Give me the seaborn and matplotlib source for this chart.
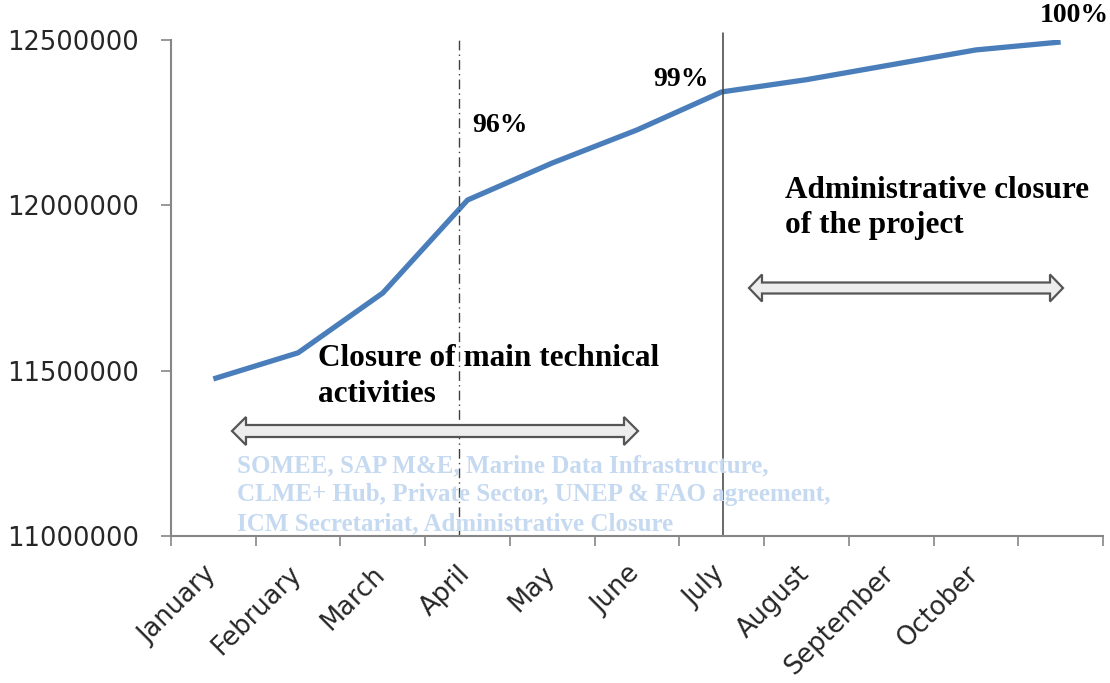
import numpy as np
import pandas as pd
import matplotlib
matplotlib.use("Agg")
import matplotlib.pyplot as plt
import matplotlib.patches as mpatches
import matplotlib.transforms as mtransforms
import seaborn as sns

# ---------------- data ----------------
months = ["January", "February", "March", "April", "May", "June", "July",
          "August", "September", "October", ""]
spent = [11475000, 11554000, 11735000, 12016000, 12128000, 12228000,
         12343000, 12380000, 12425000, 12470000, 12494000]
yticks = [11000000, 11500000, 12000000, 12500000]
pct_labels = ["96%", "99%", "100%"]
note_tech = ["Closure of main technical", "activities"]
note_admin = ["Administrative closure", "of the project"]
note_blue = ["SOMEE, SAP M&E, Marine Data Infrastructure,",
             "CLME+ Hub, Private Sector, UNEP & FAO agreement,",
             "ICM Secretariat, Administrative Closure"]

df = pd.DataFrame({"pos": np.arange(len(spent)), "spent": spent})

W, H = 1110, 683
sns.set_theme(style="white")
plt.rcParams["font.family"] = ["DejaVu Sans"]

fig = plt.figure(figsize=(W / 100, H / 100), dpi=100)
ax = fig.add_axes([171 / W, 1 - 536 / H, (1103 - 171) / W, (536 - 40) / H])

sns.lineplot(data=df, x="pos", y="spent", ax=ax, color="#4A7EBB",
             linewidth=3.8, solid_capstyle="butt", solid_joinstyle="round")

ax.set_xlim(-0.5, len(spent) - 0.5)
ax.set_ylim(yticks[0], yticks[-1])
ax.set_yticks(yticks)
ax.set_yticklabels([str(v) for v in yticks])
ax.set_xticks(np.arange(len(spent)))
ax.set_xticks(np.arange(len(spent) + 1) - 0.5, minor=True)
ax.set_xlabel("")
ax.set_ylabel("")

axis_grey = "#868686"
for s in ["top", "right"]:
    ax.spines[s].set_visible(False)
for s in ["left", "bottom"]:
    ax.spines[s].set_color(axis_grey)
    ax.spines[s].set_linewidth(1.5)

ax.tick_params(axis="y", which="major", direction="out", length=7, width=1.2,
               color=axis_grey, pad=16, labelsize=18.5, labelcolor="#262626",
               left=True)
ax.tick_params(axis="x", which="major", length=0, pad=18, labelsize=18.5,
               labelcolor="#262626")
ax.tick_params(axis="x", which="minor", direction="out", length=7, width=1.2,
               color=axis_grey, bottom=True)

offset = mtransforms.ScaledTranslation(8 / 100, 0, fig.dpi_scale_trans)
ax.set_xticklabels(months, rotation=45, ha="right", rotation_mode="default")
for lab in ax.get_xticklabels():
    lab.set_transform(lab.get_transform() + offset)

# vertical markers
ax.axvline(2.9, ymin=0, ymax=(536 - 37) / 496, color="#404040",
           linestyle=(0, (7, 3, 1, 3)), linewidth=1.0, clip_on=False)
ax.axvline(6.01, ymin=0, ymax=(536 - 33) / 496, color="#404040",
           linestyle="-", linewidth=1.1, clip_on=False)

# pixel transform (origin top-left of figure)
pix = mtransforms.Affine2D().scale(1 / W, -1 / H).translate(0, 1) + fig.transFigure

serif = ["Liberation Serif", "DejaVu Serif"]
tk = dict(transform=pix, family=serif, fontweight="bold", fontsize=20,
          color="black", va="center", ha="left")

fig.text(472, 125, pct_labels[0], **tk)
fig.text(653, 80, pct_labels[1], **tk)
fig.text(1040, 16, pct_labels[2], **tk)
big = dict(tk)
big.update(fontsize=22.5)
for i, line in enumerate(note_admin):
    fig.text(785, 190 + i * 35, line, **big)
for i, line in enumerate(note_tech):
    fig.text(318, 359 + i * 35, line, **big)
bk = dict(tk)
bk.update(color="#C5D9F1", fontsize=18)
for i, line in enumerate(note_blue):
    fig.text(237, 466 + i * 29, line, **bk)


def double_arrow(x0, x1, yc, body=12, head=28, hl=14):
    b, h = body / 2, head / 2
    pts = [(x0, yc), (x0 + hl, yc - h), (x0 + hl, yc - b), (x1 - hl, yc - b),
           (x1 - hl, yc - h), (x1, yc), (x1 - hl, yc + h), (x1 - hl, yc + b),
           (x0 + hl, yc + b), (x0 + hl, yc + h)]
    poly = mpatches.Polygon(pts, closed=True, transform=pix, facecolor="#EDEDED",
                            edgecolor="#555555", linewidth=1.6, joinstyle="miter")
    fig.add_artist(poly)


double_arrow(232, 638, 431)
double_arrow(749, 1063, 288, body=11, head=27, hl=13)

fig.savefig("out.png", dpi=100)
